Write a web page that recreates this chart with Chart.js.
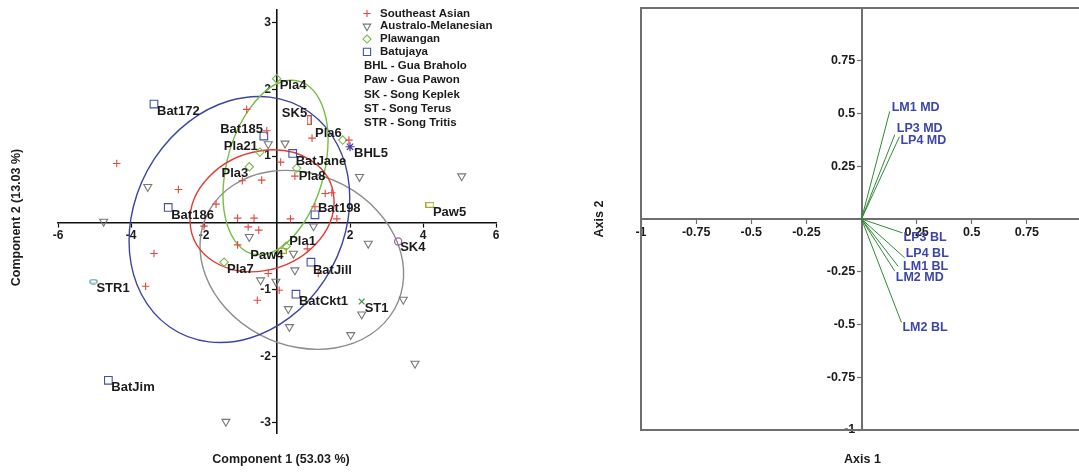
<!DOCTYPE html>
<html>
<head>
<meta charset="utf-8">
<script src="https://cdn.jsdelivr.net/npm/chart.js@4/dist/chart.umd.min.js"></script>
<style>
  html, body { margin: 0; padding: 0; background: #fff; overflow: hidden; width: 1079px; height: 472px; }
  #pca { position: absolute; left: 0; top: 0; }
  #load { position: absolute; left: 580px; top: 0; }
</style>
</head>
<body>
<canvas id="pca" width="540" height="472"></canvas>
<canvas id="load" width="510" height="472"></canvas>
<script>
// ---------- PCA scores (Component 1, Component 2) ----------
const southeastAsian = [
  [-4.39, 0.89], [-2.70, 0.50], [-0.83, 1.70], [-1.67, 0.28], [-0.95, 0.63], [-0.42, 0.64],
  [-0.28, 1.38], [0.10, 0.91], [0.96, 1.27], [1.97, 1.24], [0.49, 0.70], [1.32, 0.44],
  [1.50, 0.45], [1.04, 0.24], [0.37, 0.06], [1.64, 0.06], [-1.08, 0.07], [-0.63, 0.07],
  [-0.79, -0.06], [-0.50, -0.11], [-2.00, -0.05], [-3.37, -0.46], [-3.60, -0.95], [-1.08, -0.33],
  [-0.24, -0.76], [-0.54, -1.16], [0.06, -1.01], [0.83, -0.39], [1.13, -0.76]
];
const australoMelanesian = [
  [-4.75, 0.02], [-3.54, 0.54], [-0.24, 1.18], [0.22, 1.19], [1.00, -0.05], [-0.76, -0.21],
  [2.26, 0.69], [5.06, 0.70], [2.50, -0.31], [0.45, -0.46], [0.49, -0.71], [-0.03, -0.88],
  [-0.45, -0.86], [0.31, -1.29], [0.34, -1.56], [2.32, -1.37], [2.02, -1.68], [3.46, -1.15],
  [3.78, -2.11], [-1.40, -2.98]
];
const plawanganNames = ['Pla4', 'Pla21', 'Pla3', 'Pla8', 'Pla6', 'Pla1', 'Pla7'];
const plawanganPC1 = [-0.01, -0.47, -0.76, 0.54, 1.80, 0.25, -1.45];
const plawanganPC2 = [2.16, 1.06, 0.84, 0.82, 1.24, -0.35, -0.59];
const batujayaNames = ['Bat172', 'Bat185', 'Bat186', 'BatJane', 'Bat198', 'BatJill', 'BatCkt1', 'BatJim'];
const batujayaPC1 = [-3.37, -0.36, -2.98, 0.43, 1.04, 0.93, 0.52, -4.62];
const batujayaPC2 = [1.78, 1.30, 0.23, 1.04, 0.12, -0.59, -1.07, -2.36];
const siteNames = ['SK5', 'BHL5', 'Paw5', 'Paw4', 'SK4', 'ST1', 'STR1'];
const sitePC1 = [0.88, 2.00, 4.19, 0.15, 3.32, 2.32, -5.03];
const sitePC2 = [1.54, 1.14, 0.27, -0.42, -0.28, -1.18, -0.88];

// group ellipses: [centre PC1, centre PC2, semi-axis a, semi-axis b, tilt in degrees]
const ellipseSoutheastAsian = [-0.41, 0.18, 1.98, 0.90, 5];
const ellipseAustraloMelanesian = [0.68, -0.555, 2.80, 1.32, -5.5];
const ellipsePlawangan = [-0.04, 0.83, 1.58, 1.13, 36.6];
const ellipseBatujaya = [-1.03, 0.05, 3.05, 1.80, 9.4];

const legendGroups = ['Southeast Asian', 'Australo-Melanesian', 'Plawangan', 'Batujaya'];
const siteKey = ['BHL - Gua Braholo', 'Paw - Gua Pawon', 'SK - Song Keplek', 'ST - Song Terus', 'STR - Song Tritis'];

const pcaXTicks = [-6, -4, -2, 2, 4, 6];
const pcaYTicks = [-3, -2, -1, 1, 2, 3];

// ---------- variable loadings (Axis 1, Axis 2) ----------
const loadingNames = ['LM1 MD', 'LP3 MD', 'LP4 MD', 'LP3 BL', 'LP4 BL', 'LM1 BL', 'LM2 MD', 'LM2 BL'];
const loadingAxis1 = [0.128, 0.151, 0.172, 0.186, 0.196, 0.166, 0.151, 0.181];
const loadingAxis2 = [0.51, 0.40, 0.39, -0.066, -0.184, -0.224, -0.247, -0.49];
const loadXTicks = [-1, -0.75, -0.5, -0.25, 0.25, 0.5, 0.75];
const loadYTicks = [-1, -0.75, -0.5, -0.25, 0.25, 0.5, 0.75];

// ---------- styling ----------
const FONT = "'Liberation Sans', Arial, Helvetica, sans-serif";
const INK = '#1b1b1b';

function makeIcon(w, h, draw) {
  const c = document.createElement('canvas');
  c.width = w; c.height = h;
  draw(c.getContext('2d'), w, h);
  return c;
}
const pawonIcon = makeIcon(9, 6, (g, w, h) => { g.strokeStyle = '#aaa733'; g.lineWidth = 1.2; g.strokeRect(0.6, 0.6, w - 1.2, h - 1.2); });
const keplekIcon = makeIcon(5, 10, (g, w, h) => { g.strokeStyle = '#c0504d'; g.lineWidth = 1.2; g.strokeRect(0.6, 0.6, w - 1.2, h - 1.2); });
const tritisIcon = makeIcon(9, 6, (g, w, h) => {
  g.strokeStyle = '#4f9fa3'; g.lineWidth = 1.2; g.beginPath();
  g.ellipse(w / 2, h / 2, w / 2 - 0.8, h / 2 - 0.8, 0, 0, Math.PI * 2); g.stroke();
});

const GROUP_STYLE = {
  'Southeast Asian':     { pointStyle: 'cross',    radius: 3.8, rotation: 0,   color: '#e8473f' },
  'Australo-Melanesian': { pointStyle: 'triangle', radius: 4.6, rotation: 180, color: '#777777' },
  'Plawangan':           { pointStyle: 'rectRot',  radius: 4.2, rotation: 0,   color: '#7ab84a' },
  'Batujaya':            { pointStyle: 'rect',     radius: 5.4, rotation: 0,   color: '#4450a8' }
};
const SITE_STYLE = {
  SK5:  { pointStyle: keplekIcon, radius: 4, color: '#c0504d' },
  BHL5: { pointStyle: 'star',     radius: 4.5, color: '#4b3fa6' },
  Paw5: { pointStyle: pawonIcon,  radius: 4, color: '#aaa733' },
  Paw4: { pointStyle: pawonIcon,  radius: 4, color: '#aaa733' },
  SK4:  { pointStyle: 'circle',   radius: 3.6, color: '#a65ca8' },
  ST1:  { pointStyle: 'crossRot', radius: 4, color: '#3c9a46' },
  STR1: { pointStyle: tritisIcon, radius: 4, color: '#4f9fa3' }
};
const ELLIPSE_STYLE = [
  [ellipseAustraloMelanesian, '#8c8c8c'],
  [ellipseBatujaya, '#3d45a3'],
  [ellipsePlawangan, '#74bf3f'],
  [ellipseSoutheastAsian, '#e23b33']
];
// text placement next to each marker: [dx, dy, alignment]
const LABEL_PLACE = {
  Bat172: [3, 7, 'left'], Bat185: [-1, -7, 'right'], Pla21: [-2, -6, 'right'], Pla3: [-1, 7, 'right'],
  Bat186: [3, 8, 'left'], Pla4: [3, 7, 'left'], SK5: [-2, -7, 'right'], Pla6: [-1, -7, 'right'],
  BHL5: [4, 7, 'left'], BatJane: [3, 8, 'left'], Pla8: [2, 8, 'left'], Bat198: [3, -6, 'left'],
  Paw5: [3, 8, 'left'], Pla1: [3, -5, 'left'], Paw4: [1, 5, 'right'], Pla7: [3, 7, 'left'],
  BatJill: [2, 8, 'left'], BatCkt1: [3, 7, 'left'], SK4: [2, 6, 'left'], ST1: [3, 7, 'left'],
  STR1: [3, 7, 'left'], BatJim: [3, 7, 'left']
};
const LOADING_LABEL_PLACE = [[2, -4], [2, -6], [1, 4], [1, 5], [1, -4], [5, 0], [1, 6], [1, 5]];

// ---------- PCA score plot ----------
function groupDataset(label, points) {
  const s = GROUP_STYLE[label];
  return {
    label, data: points,
    pointStyle: s.pointStyle, pointRadius: s.radius, pointRotation: s.rotation,
    pointBorderColor: s.color, pointBackgroundColor: 'rgba(0,0,0,0)', pointBorderWidth: 1.1,
    showLine: false, clip: false
  };
}
const pcaDatasets = [
  groupDataset('Southeast Asian', southeastAsian.map(([x, y]) => ({ x, y }))),
  groupDataset('Australo-Melanesian', australoMelanesian.map(([x, y]) => ({ x, y }))),
  groupDataset('Plawangan', plawanganNames.map((name, i) => ({ x: plawanganPC1[i], y: plawanganPC2[i], name }))),
  groupDataset('Batujaya', batujayaNames.map((name, i) => ({ x: batujayaPC1[i], y: batujayaPC2[i], name })))
];
siteNames.forEach((name, i) => {
  const s = SITE_STYLE[name];
  pcaDatasets.push({
    label: name, data: [{ x: sitePC1[i], y: sitePC2[i], name }],
    pointStyle: s.pointStyle, pointRadius: s.radius, pointBorderColor: s.color,
    pointBackgroundColor: 'rgba(0,0,0,0)', pointBorderWidth: 1.2, showLine: false, clip: false
  });
});

const ellipsePlugin = {
  id: 'groupEllipses',
  beforeDatasetsDraw(chart) {
    const { ctx, scales: { x, y } } = chart;
    const sx = x.getPixelForValue(1) - x.getPixelForValue(0);
    const sy = y.getPixelForValue(1) - y.getPixelForValue(0);
    ELLIPSE_STYLE.forEach(([e, color]) => {
      const [cx, cy, a, b, tilt] = e;
      ctx.save();
      ctx.beginPath();
      ctx.save();
      ctx.translate(x.getPixelForValue(cx), y.getPixelForValue(cy));
      ctx.scale(sx, sy);
      ctx.ellipse(0, 0, a, b, tilt * Math.PI / 180, 0, Math.PI * 2);
      ctx.restore();
      ctx.strokeStyle = color;
      ctx.lineWidth = 1.4;
      ctx.stroke();
      ctx.restore();
    });
  }
};

const pcaDecor = {
  id: 'pcaDecor',
  afterDraw(chart) {
    const { ctx, chartArea: ca } = chart;
    ctx.save();
    // specimen names
    ctx.font = `bold 13px ${FONT}`;
    ctx.fillStyle = INK;
    ctx.textBaseline = 'middle';
    chart.data.datasets.forEach((ds, di) => {
      const meta = chart.getDatasetMeta(di);
      ds.data.forEach((p, i) => {
        if (!p.name) return;
        const el = meta.data[i];
        const [dx, dy, align] = LABEL_PLACE[p.name];
        ctx.textAlign = align;
        ctx.fillText(p.name, el.x + dx, el.y + dy);
      });
    });
    // legend
    const lx = ca.left + 309, tx = ca.left + 322;
    ctx.font = `bold 11.5px ${FONT}`;
    ctx.textAlign = 'left';
    legendGroups.forEach((g, i) => {
      const s = GROUP_STYLE[g];
      const yy = ca.top + 3.5 + i * 12.8;
      ctx.strokeStyle = s.color;
      ctx.fillStyle = 'rgba(0,0,0,0)';
      ctx.lineWidth = 1.1;
      Chart.helpers.drawPoint(ctx, { pointStyle: s.pointStyle, radius: s.radius * 0.95, rotation: s.rotation, borderWidth: 1.1 }, lx, yy);
      ctx.fillStyle = INK;
      ctx.fillText(g, tx, yy);
    });
    siteKey.forEach((t, i) => {
      ctx.fillText(t, ca.left + 306, ca.top + 56 + i * 14.3);
    });
    // axis titles
    ctx.font = `bold 12.5px ${FONT}`;
    ctx.textAlign = 'center';
    ctx.fillText('Component 1 (53.03 %)', (ca.left + ca.right) / 2 + 4, ca.bottom + 27);
    ctx.translate(17, (ca.top + ca.bottom) / 2 - 4);
    ctx.rotate(-Math.PI / 2);
    ctx.fillText('Component 2 (13.03 %)', 0, 0);
    ctx.restore();
  }
};

// an axis that crosses the other one at zero; vertical axes keep their labels clear of the tick marks
function centredAxis(min, max, ticks, crossAt, color, lineW, fontSize, pad) {
  const vertical = 'x' in crossAt;
  return {
    type: 'linear', min, max, position: crossAt,
    afterBuildTicks: (s) => { s.ticks = ticks.map(v => ({ value: v })); },
    grid: { display: true, drawOnChartArea: false, drawTicks: true, tickLength: 4, tickColor: color, tickWidth: 1.2 },
    border: { display: true, color, width: lineW },
    ticks: {
      color: INK, padding: pad, font: { family: FONT, size: fontSize, weight: 'bold', lineHeight: 1 },
      callback: v => vertical ? String(v) + '\u2002' : String(v)
    }
  };
}

new Chart(document.getElementById('pca'), {
  type: 'scatter',
  data: { datasets: pcaDatasets },
  options: {
    responsive: false, animation: false, events: [],
    layout: { padding: { left: 58, right: 44, top: 10, bottom: 39 } },
    plugins: { legend: { display: false }, tooltip: { enabled: false } },
    scales: {
      x: centredAxis(-6, 6, pcaXTicks, { y: 0 }, '#111', 1.6, 12, 3),
      y: centredAxis(-3.15, 3.19, pcaYTicks, { x: 0 }, '#111', 1.6, 12, 1)
    }
  },
  plugins: [ellipsePlugin, pcaDecor]
});

// ---------- loading plot ----------
const loadDatasets = loadingNames.map((name, i) => ({
  label: name,
  data: [{ x: 0, y: 0 }, { x: loadingAxis1[i], y: loadingAxis2[i] }],
  showLine: true, borderColor: '#2f8a35', borderWidth: 1, pointRadius: 0, clip: false
}));

const loadDecor = {
  id: 'loadDecor',
  beforeDatasetsDraw(chart) {
    const { ctx, chartArea: ca } = chart;
    ctx.save();
    ctx.strokeStyle = '#6f6f6f';
    ctx.lineWidth = 2;
    ctx.strokeRect(ca.left, ca.top, ca.right - ca.left, ca.bottom - ca.top);
    ctx.restore();
  },
  afterDraw(chart) {
    const { ctx, chartArea: ca } = chart;
    ctx.save();
    ctx.font = `bold 12.5px ${FONT}`;
    ctx.fillStyle = '#3c46a8';
    ctx.textAlign = 'left';
    ctx.textBaseline = 'middle';
    loadingNames.forEach((name, i) => {
      const el = chart.getDatasetMeta(i).data[1];
      const [dx, dy] = LOADING_LABEL_PLACE[i];
      ctx.fillText(name, el.x + dx, el.y + dy);
    });
    ctx.fillStyle = INK;
    ctx.textAlign = 'center';
    ctx.fillText('Axis 1', (ca.left + ca.right) / 2 + 1, ca.bottom + 30);
    ctx.translate(ca.left - 41, (ca.top + ca.bottom) / 2);
    ctx.rotate(-Math.PI / 2);
    ctx.fillText('Axis 2', 0, 0);
    ctx.restore();
  }
};

new Chart(document.getElementById('load'), {
  type: 'scatter',
  data: { datasets: loadDatasets },
  options: {
    responsive: false, animation: false, events: [],
    layout: { padding: { left: 61, right: 8, top: 8, bottom: 42 } },
    plugins: { legend: { display: false }, tooltip: { enabled: false } },
    scales: {
      x: centredAxis(-1, 1, loadXTicks, { y: 0 }, '#6f6f6f', 2, 12.5, 3),
      y: centredAxis(-1, 1, loadYTicks, { x: 0 }, '#6f6f6f', 2, 12.5, 1)
    }
  },
  plugins: [loadDecor]
});
</script>
</body>
</html>
